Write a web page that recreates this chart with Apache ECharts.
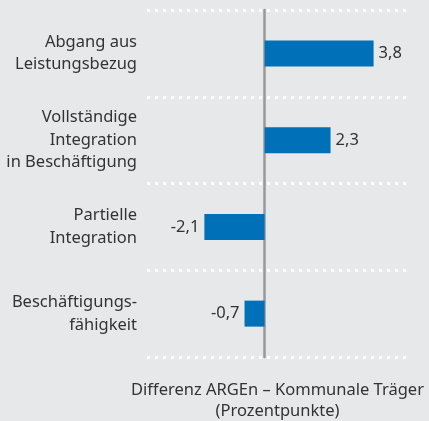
<!DOCTYPE html>
<html>
<head>
<meta charset="utf-8">
<script src="https://cdn.jsdelivr.net/npm/echarts@6/dist/echarts.min.js"></script>
<style>
  html, body { margin: 0; padding: 0; background: #e7e8ea; }
  #chart { width: 429px; height: 421px; }
</style>
</head>
<body>
<div id="chart"></div>
<script>
// Kategorien und Werte (Differenz in Prozentpunkten)
var categories = [
  'Abgang aus\nLeistungsbezug',
  'Vollständige\nIntegration\nin Beschäftigung',
  'Partielle\nIntegration',
  'Beschäftigungs-\nfähigkeit'
];
var values = [3.8, 2.3, -2.1, -0.7];
var axisTitle = 'Differenz ARGEn – Kommunale Träger\n(Prozentpunkte)';

var textColor = '#333';
var fontFam = '"Noto Sans", "Open Sans", sans-serif';

var chart = echarts.init(document.getElementById('chart'));

var barData = values.map(function (v) {
  return {
    value: v,
    label: { position: v < 0 ? 'left' : 'right' }
  };
});

chart.setOption({
  backgroundColor: '#e7e8ea',
  animation: false,
  grid: { left: 147, right: 21, top: 10, bottom: 64, outerBoundsMode: 'none' },
  xAxis: {
    type: 'value',
    min: -4.1,
    max: 5,
    axisLine: { show: false },
    axisTick: { show: false },
    axisLabel: { show: false },
    splitLine: { show: false },
    name: axisTitle,
    nameLocation: 'middle',
    nameGap: 23,
    nameTextStyle: {
      color: textColor, fontSize: 16.5, fontFamily: fontFam,
      lineHeight: 21, verticalAlign: 'top'
    }
  },
  yAxis: {
    type: 'category',
    inverse: true,
    data: categories,
    axisLine: { show: true, onZero: true, lineStyle: { color: '#999', width: 2.5 } },
    axisTick: { show: false },
    axisLabel: {
      color: textColor, fontSize: 16.5, fontFamily: fontFam,
      lineHeight: 22.5, align: 'right', margin: 10
    },
    splitLine: {
      show: true,
      lineStyle: { color: '#fff', width: 3, type: [3, 5] }
    }
  },
  series: [{
    type: 'bar',
    data: barData,
    barWidth: 26,
    itemStyle: { color: '#0070b9' },
    label: {
      show: true,
      distance: 5,
      color: textColor,
      fontSize: 16.5,
      fontFamily: fontFam,
      formatter: function (p) { return String(p.value).replace('.', ','); }
    }
  }]
});
</script>
</body>
</html>
